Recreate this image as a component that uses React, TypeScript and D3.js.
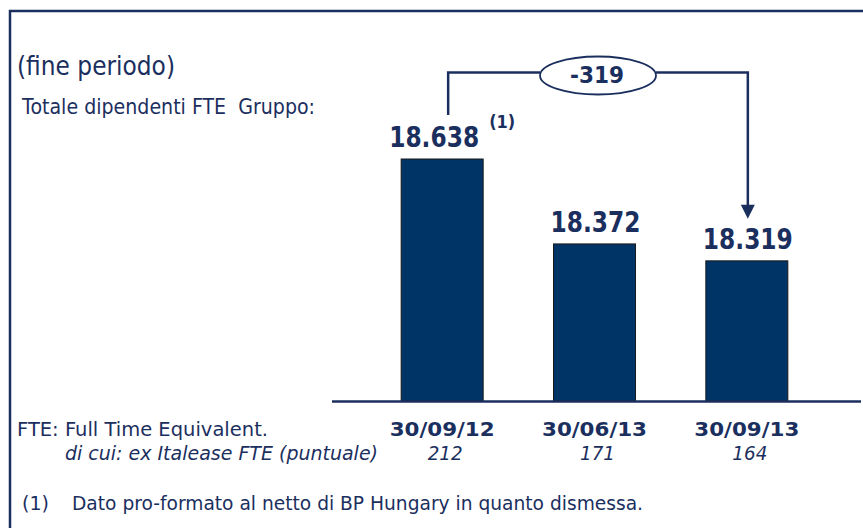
import React from "react";
import * as d3 from "d3";

const categories = ["30/09/12", "30/06/13", "30/09/13"];
const values = [18638, 18372, 18319];
const italeaseFte = [212, 171, 164];
const footnoteMarks = ["(1)", "", ""];

const W = 863;
const H = 528;
const NAVY = "#1b2f5e";
const BAR = "#003366";
const FONT = "'DejaVu Sans', Verdana, sans-serif";

const itLocale = d3.formatLocale({ thousands: ".", grouping: [3], decimal: ",", currency: ["€", ""], minus: "-" });
const fmt = itLocale.format(",d");

export default function App() {
  const x = d3.scaleBand<string>().domain(categories).range([366, 823]).padding(0);
  const y = d3.scaleLinear().domain([17880, 18638]).range([401, 159]);
  const barW = 82;
  const cx = (c: string) => (x(c) as number) + x.bandwidth() / 2;

  const delta = values[values.length - 1] - values[0];
  const first = categories[0];
  const last = categories[categories.length - 1];
  const leftX = cx(first) + 6;
  const rightX = cx(last) + 1;
  const topY = 72.5;
  const leftBottom = y(values[0]) - 44;
  const arrowTip = y(values[values.length - 1]) - 42;
  const ellCx = (leftX + rightX) / 2;
  const ellRx = 58;
  const ellRy = 19;
  const ellCy = 75.5;

  return (
    <svg width={W} height={H} style={{ position: "absolute", left: 0, top: 0 }} fontFamily={FONT}>
      <rect x={0} y={0} width={W} height={H} fill="#ffffff" />
      {/* frame */}
      <path d={`M10,${H} V11 H${W}`} fill="none" stroke={NAVY} strokeWidth={2.5} />

      {/* titles */}
      <text x={17} y={74.5} fontSize={26.5} fill={NAVY} textLength={158} lengthAdjust="spacingAndGlyphs">(fine periodo)</text>
      <text x={22} y={114} fontSize={21} fill={NAVY} textLength={293} lengthAdjust="spacingAndGlyphs" xmlSpace="preserve">Totale dipendenti FTE  Gruppo:</text>

      {/* bars */}
      {categories.map((c, i) => (
        <rect key={c} x={cx(c) - barW / 2} y={y(values[i])} width={barW} height={y.range()[0] - y(values[i])}
          fill={BAR} stroke="#1a1a1a" strokeWidth={1} />
      ))}
      {/* baseline */}
      <line x1={332} x2={861} y1={401.5} y2={401.5} stroke={NAVY} strokeWidth={2.5} />

      {/* value labels */}
      {categories.map((c, i) => (
        <g key={"l" + c}>
          <text x={cx(c) + (footnoteMarks[i] ? -8 : 1)} y={y(values[i]) - 12} textAnchor="middle" fontSize={28}
            fontWeight="bold" fill={NAVY} textLength={90} lengthAdjust="spacingAndGlyphs">{fmt(values[i])}</text>
          {footnoteMarks[i] && (
            <text x={cx(c) + 47} y={y(values[i]) - 31} fontSize={17} fontWeight="bold" fill={NAVY}
              textLength={26} lengthAdjust="spacingAndGlyphs">{footnoteMarks[i]}</text>
          )}
        </g>
      ))}

      {/* delta connector */}
      <path d={`M${leftX},${leftBottom} V${topY} H${ellCx - ellRx}`} fill="none" stroke={NAVY} strokeWidth={2.5} />
      <path d={`M${ellCx + ellRx},${topY} H${rightX} V${arrowTip - 13}`} fill="none" stroke={NAVY} strokeWidth={2.5} />
      <polygon points={`${rightX - 7},${arrowTip - 14} ${rightX + 7},${arrowTip - 14} ${rightX},${arrowTip}`} fill={NAVY} />
      <ellipse cx={ellCx} cy={ellCy} rx={ellRx} ry={ellRy} fill="#ffffff" stroke={NAVY} strokeWidth={1.8} />
      <text x={ellCx - 1} y={82.5} textAnchor="middle" fontSize={22.5} fontWeight="bold" fill={NAVY}
        textLength={54} lengthAdjust="spacingAndGlyphs">{fmt(delta)}</text>

      {/* category labels */}
      {categories.map((c) => (
        <text key={"c" + c} x={cx(c)} y={436} textAnchor="middle" fontSize={20} fontWeight="bold" fill={NAVY}
          textLength={105} lengthAdjust="spacingAndGlyphs">{c}</text>
      ))}
      {/* italease row */}
      {categories.map((c, i) => (
        <text key={"i" + c} x={cx(c) + 3} y={460} textAnchor="middle" fontSize={19} fontStyle="italic" fill={NAVY}
          textLength={35} lengthAdjust="spacingAndGlyphs">{String(italeaseFte[i])}</text>
      ))}

      <text x={17} y={436} fontSize={19} fill={NAVY} textLength={251} lengthAdjust="spacingAndGlyphs">FTE: Full Time Equivalent.</text>
      <text x={65} y={460} fontSize={19} fontStyle="italic" fill={NAVY} textLength={313} lengthAdjust="spacingAndGlyphs">di cui: ex Italease FTE (puntuale)</text>

      <text x={22} y={510} fontSize={20} fill={NAVY} textLength={27} lengthAdjust="spacingAndGlyphs">(1)</text>
      <text x={72} y={510} fontSize={20} fill={NAVY} textLength={571} lengthAdjust="spacingAndGlyphs">Dato pro-formato al netto di BP Hungary in quanto dismessa.</text>
    </svg>
  );
}
